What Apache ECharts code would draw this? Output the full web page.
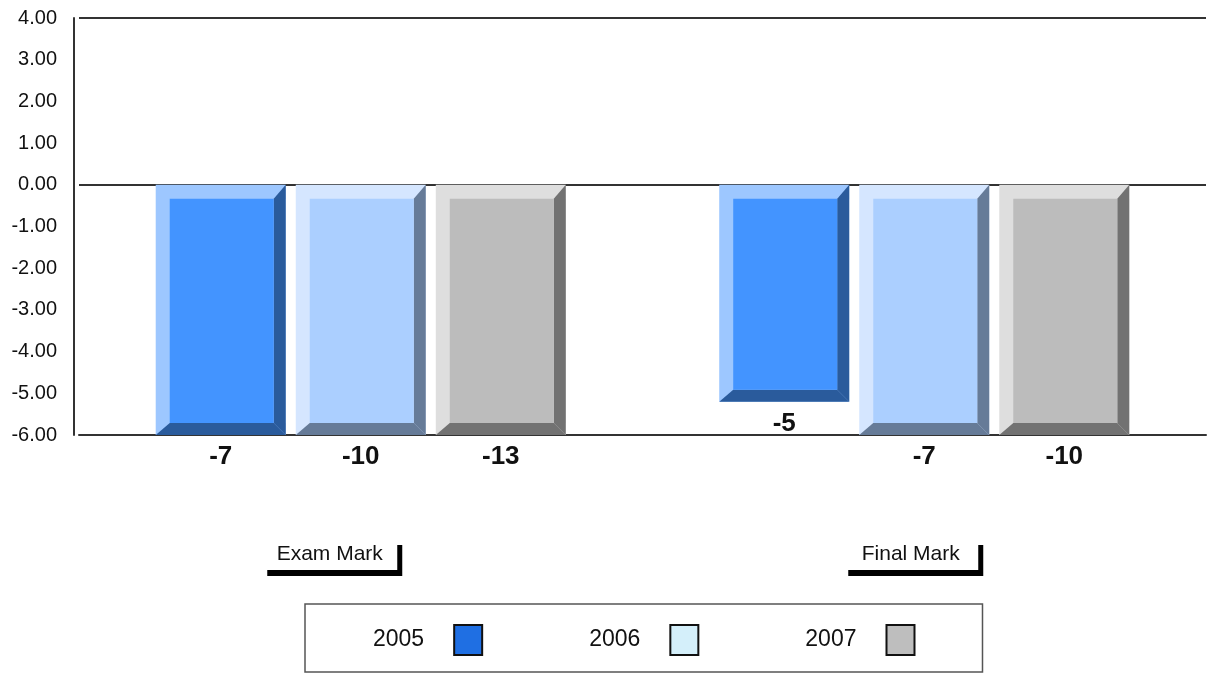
<!DOCTYPE html>
<html>
<head>
<meta charset="utf-8">
<script src="https://cdn.jsdelivr.net/npm/echarts@6/dist/echarts.min.js"></script>
<style>
  html, body { margin: 0; padding: 0; background: #fff; }
  #main { width: 1207px; height: 677px; }
</style>
</head>
<body>
<div id="main"></div>
<script>
var categories = ['Exam Mark', 'Final Mark']
var years = ['2005', '2006', '2007']
var values2005 = [-7, -5.2]
var values2006 = [-10, -7]
var values2007 = [-13, -10]
var yMin = -6
var yMax = 4
var yStep = 1

var FONT = 'Liberation Sans, Arial, sans-serif'

// 3D bar colours: [light bevel, front, dark bevel]
var palettes = [
  ['#9dc7ff', '#4394ff', '#2a5b9c'],
  ['#d5e6ff', '#abcfff', '#667b98'],
  ['#dedede', '#bcbcbc', '#727272'],
]
var legendColors = ['#1f6fe3', '#d4effa', '#bebebe']

function makeRender(idx) {
  var pal = palettes[idx]
  return function (params, api) {
    var cat = api.value(0)
    var val = api.value(1)
    var catW = api.size([1, 0])[0]
    var barW = catW * 0.2307
    var gap = catW * 0.0178
    var groupW = barW * 3 + gap * 2
    var center = api.coord([cat, 0])[0]
    var x0 = center - groupW / 2 + idx * (barW + gap)
    var x1 = x0 + barW
    var yTop = api.coord([cat, 0])[1]
    // bars below the axis minimum are cut off at the bottom line
    var yBot = api.coord([cat, Math.max(val, yMin)])[1]
    var bt = 14 // top / left bevel
    var br = 12 // right / bottom bevel
    return {
      type: 'group',
      children: [
        { type: 'rect', shape: { x: x0, y: yTop, width: barW, height: yBot - yTop }, style: { fill: pal[0] } },
        {
          type: 'polygon',
          shape: { points: [[x1, yTop], [x1, yBot], [x1 - br, yBot - br], [x1 - br, yTop + bt]] },
          style: { fill: pal[2] },
        },
        {
          type: 'polygon',
          shape: { points: [[x0, yBot], [x1, yBot], [x1 - br, yBot - br], [x0 + bt, yBot - br]] },
          style: { fill: pal[2] },
        },
        {
          type: 'rect',
          shape: { x: x0 + bt, y: yTop + bt, width: barW - bt - br, height: yBot - yTop - bt - br },
          style: { fill: pal[1] },
        },
        {
          type: 'text',
          style: {
            x: (x0 + x1) / 2,
            y: yBot + 22,
            text: String(Math.round(val)),
            align: 'center',
            verticalAlign: 'middle',
            fill: '#111',
            font: 'bold 26px ' + FONT,
          },
        },
      ],
    }
  }
}

var seriesData = [values2005, values2006, values2007]

var myChart = echarts.init(document.getElementById('main'))
var option = {
  animation: false,
  backgroundColor: '#fff',
  grid: {
    left: 79,
    right: 1,
    top: 18,
    bottom: 242,
  },
  legend: {
    left: 305,
    top: 604,
    orient: 'horizontal',
    align: 'right',
    icon: 'rect',
    itemWidth: 28,
    itemHeight: 30,
    itemGap: 106,
    padding: [20, 67, 16, 68],
    borderColor: '#555',
    borderWidth: 1.5,
    itemStyle: {
      borderColor: '#111',
      borderWidth: 2,
    },
    textStyle: {
      fontFamily: FONT,
      fontSize: 23,
      color: '#111',
      padding: [0, 25, 0, 0],
    },
    data: years.map(function (y, i) {
      return { name: y, itemStyle: { color: legendColors[i] } }
    }),
  },
  xAxis: {
    type: 'category',
    data: categories,
    axisLine: {
      onZero: false,
      lineStyle: { color: '#333', width: 2 },
    },
    axisTick: { show: false },
    splitLine: { show: false },
    axisLabel: {
      interval: 0,
      margin: 104,
      formatter: function (v, i) {
        return '{box|' + v + '}{g' + i + '|}'
      },
      rich: {
        box: {
          fontFamily: FONT,
          fontSize: 21,
          color: '#111',
          width: 107,
          align: 'center',
          backgroundColor: '#fff',
          padding: [5, 14, 5, 14],
          shadowColor: '#000',
          shadowBlur: 0,
          shadowOffsetX: 5,
          shadowOffsetY: 6,
        },
        g0: { width: 62 },
        g1: { width: 27 },
      },
    },
  },
  yAxis: {
    type: 'value',
    min: yMin,
    max: yMax,
    interval: yStep,
    offset: 5,
    axisLine: {
      show: true,
      lineStyle: { color: '#333', width: 2 },
    },
    axisTick: { show: false },
    splitLine: { show: false },
    axisLabel: {
      margin: 17,
      fontFamily: FONT,
      fontSize: 20,
      color: '#111',
      formatter: function (v) {
        return v.toFixed(2)
      },
    },
  },
  series: years.map(function (y, i) {
    var s = {
      name: y,
      type: 'custom',
      clip: false,
      renderItem: makeRender(i),
      itemStyle: { color: legendColors[i] },
      encode: { x: 0, y: 1 },
      data: seriesData[i].map(function (v, c) {
        return [c, v]
      }),
    }
    if (i === 0) {
      // top border and zero line
      s.markLine = {
        silent: true,
        z: 1,
        symbol: ['none', 'none'],
        label: { show: false },
        lineStyle: { color: '#333', width: 2, type: 'solid' },
        data: [{ yAxis: yMax }, { yAxis: 0 }],
      }
    }
    return s
  }),
}

option && myChart.setOption(option)
window.addEventListener('resize', function () {
  myChart.resize()
})
</script>
</body>
</html>
